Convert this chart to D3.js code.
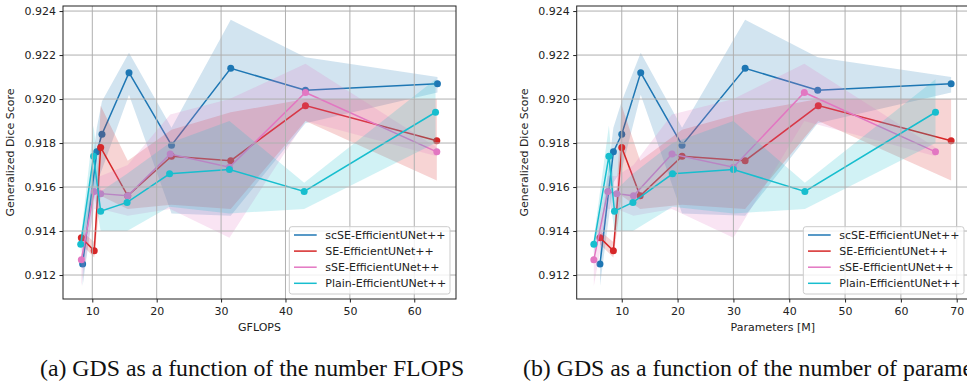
<!DOCTYPE html>
<html>
<head>
<meta charset="utf-8">
<script src="https://cdn.jsdelivr.net/npm/d3@7"></script>
<style>
  body { margin: 0; background: #fff; }
  svg { display: block; }
</style>
</head>
<body>
<svg id="chart" width="967" height="383"></svg>
<script>
// series names and colours (matplotlib tab10)
const seriesNames = ["scSE-EfficientUNet++", "SE-EfficientUNet++", "sSE-EfficientUNet++", "Plain-EfficientUNet++"];
const seriesColors = ["#1f77b4", "#d62728", "#e377c2", "#17becf"];

// x values: GFLOPS
const scseGflops = [8.5, 10.7, 11.5, 15.7, 22.3, 31.5, 43.1, 63.6];
const seGflops = [8.3, 10.3, 11.3, 15.5, 22.3, 31.5, 43.1, 63.5];
const sseGflops = [8.3, 10.3, 11.3, 15.5, 22.1, 31.3, 43.1, 63.5];
const plainGflops = [8.2, 10.2, 11.3, 15.4, 22.0, 31.3, 42.9, 63.3];

// x values: parameters [M]
const scseParams = [6.1, 8.5, 10.0, 13.4, 20.8, 32.1, 45.1, 69.0];
const seParams = [6.1, 8.5, 10.0, 13.3, 20.8, 32.1, 45.2, 69.0];
const sseParams = [5.0, 7.5, 9.1, 12.1, 19.0, 30.0, 42.7, 66.2];
const plainParams = [5.0, 7.7, 8.7, 12.0, 19.1, 30.0, 42.8, 66.2];

// generalized dice score (mean) and band limits
const scseGds = [0.9125, 0.9176, 0.9184, 0.9212, 0.9179, 0.9214, 0.9204, 0.9207];
const scseLow = [0.9115, 0.9162, 0.9168, 0.9202, 0.9148, 0.9147, 0.9189, 0.9203];
const scseHigh = [0.9137, 0.9187, 0.9199, 0.9221, 0.9187, 0.9236, 0.9219, 0.9210];

const seGds = [0.9137, 0.9131, 0.9178, 0.9156, 0.9174, 0.9172, 0.9197, 0.9181];
const seLow = [0.9134, 0.9128, 0.9156, 0.9150, 0.9152, 0.9150, 0.9190, 0.9163];
const seHigh = [0.9140, 0.9135, 0.9197, 0.9172, 0.9186, 0.9194, 0.9200, 0.9200];

const sseGds = [0.9127, 0.9158, 0.9157, 0.9156, 0.9175, 0.9169, 0.9203, 0.9176];
const sseLow = [0.9115, 0.9150, 0.9150, 0.9147, 0.9150, 0.9137, 0.9190, 0.9174];
const sseHigh = [0.9135, 0.9165, 0.9165, 0.9170, 0.9193, 0.9200, 0.9216, 0.9178];

const plainGds = [0.9134, 0.9174, 0.9149, 0.9153, 0.9166, 0.9168, 0.9158, 0.9194];
const plainLow = [0.9130, 0.9158, 0.9140, 0.9140, 0.9151, 0.9148, 0.9150, 0.9180];
const plainHigh = [0.9137, 0.9188, 0.9158, 0.9166, 0.9180, 0.9190, 0.9162, 0.9209];

// tick labels
const yTicks = [0.912, 0.914, 0.916, 0.918, 0.920, 0.922, 0.924];
const gflopsTicks = [10, 20, 30, 40, 50, 60];
const paramsTicks = [10, 20, 30, 40, 50, 60, 70];

const gdsValues = [scseGds, seGds, sseGds, plainGds];
const lowValues = [scseLow, seLow, sseLow, plainLow];
const highValues = [scseHigh, seHigh, sseHigh, plainHigh];

const svg = d3.select("#chart");
const font = "'DejaVu Sans', sans-serif";

// one panel = one subplot
function drawPanel(p, idx) {
	const x = d3.scaleLinear().domain(p.xDomain).range([p.left, p.right]);
	const y = d3.scaleLinear().domain([0.91091, 0.92423]).range([p.bottom, p.top]);

	const g = svg.append("g");
	const clipId = "clip" + idx;
	g.append("clipPath").attr("id", clipId)
		.append("rect")
		.attr("x", p.left).attr("y", p.top)
		.attr("width", p.right - p.left).attr("height", p.bottom - p.top);

	const plot = g.append("g").attr("clip-path", `url(#${clipId})`);

	// lines + markers, then band of each series (bands sit on top, alpha 0.2)
	seriesNames.forEach((name, i) => {
		const xs = p.xs[i];
		const pts = xs.map((v, j) => [x(v), y(gdsValues[i][j])]);
		plot.append("path")
			.attr("d", d3.line()(pts))
			.attr("fill", "none")
			.attr("stroke", seriesColors[i])
			.attr("stroke-width", 1.5);
		plot.selectAll(null).data(pts).enter().append("circle")
			.attr("cx", d => d[0]).attr("cy", d => d[1])
			.attr("r", 3.5)
			.attr("fill", seriesColors[i]);

		const area = d3.area()
			.x((d, j) => x(xs[j]))
			.y0((d, j) => y(lowValues[i][j]))
			.y1((d, j) => y(highValues[i][j]));
		plot.append("path")
			.attr("d", area(xs))
			.attr("fill", seriesColors[i])
			.attr("fill-opacity", 0.2);
	});

	// grid on top
	const grid = g.append("g").attr("clip-path", `url(#${clipId})`);
	grid.selectAll(null).data(p.xTicks).enter().append("line")
		.attr("x1", d => x(d)).attr("x2", d => x(d))
		.attr("y1", p.top).attr("y2", p.bottom)
		.attr("stroke", "#b0b0b0").attr("stroke-width", 1);
	grid.selectAll(null).data(yTicks).enter().append("line")
		.attr("x1", p.left).attr("x2", p.right)
		.attr("y1", d => y(d)).attr("y2", d => y(d))
		.attr("stroke", "#b0b0b0").attr("stroke-width", 1);

	// frame
	g.append("rect")
		.attr("x", p.left).attr("y", p.top)
		.attr("width", p.right - p.left).attr("height", p.bottom - p.top)
		.attr("fill", "none").attr("stroke", "#222").attr("stroke-width", 1);

	// axes
	const xAxis = g.append("g")
		.attr("transform", `translate(0,${p.bottom})`)
		.call(d3.axisBottom(x).tickValues(p.xTicks).tickSize(3.5).tickPadding(4.5).tickFormat(d3.format("d")));
	const yAxis = g.append("g")
		.attr("transform", `translate(${p.left},0)`)
		.call(d3.axisLeft(y).tickValues(yTicks).tickSize(3.5).tickPadding(3.5).tickFormat(d3.format(".3f")));
	[xAxis, yAxis].forEach(a => {
		a.select(".domain").remove();
		a.selectAll("line").attr("stroke", "#222");
		a.selectAll("text").attr("font-family", font).attr("font-size", 11).attr("fill", "#222");
	});

	// axis labels
	g.append("text")
		.attr("x", (p.left + p.right) / 2).attr("y", 330.5)
		.attr("text-anchor", "middle")
		.attr("font-family", font).attr("font-size", 11).attr("fill", "#222")
		.text(p.xLabel);
	g.append("text")
		.attr("transform", `translate(${p.yLabelX},${(p.top + p.bottom) / 2}) rotate(-90)`)
		.attr("text-anchor", "middle")
		.attr("font-family", font).attr("font-size", 11).attr("fill", "#222")
		.text("Generalized Dice Score");

	// legend
	const lg = g.append("g").attr("transform", `translate(${p.legendX},226.7)`);
	lg.append("rect")
		.attr("width", 160.7).attr("height", 67.3).attr("rx", 2.5)
		.attr("fill", "#fff").attr("fill-opacity", 0.8)
		.attr("stroke", "#cccccc").attr("stroke-width", 1);
	seriesNames.forEach((name, i) => {
		const ry = 8.3 + i * 16.1;
		lg.append("line")
			.attr("x1", 4.7).attr("x2", 27.4).attr("y1", ry).attr("y2", ry)
			.attr("stroke", seriesColors[i]).attr("stroke-width", 1.5);
		lg.append("text")
			.attr("x", 36).attr("y", ry + 4)
			.attr("font-family", font).attr("font-size", 11).attr("fill", "#222")
			.text(name);
	});

	// caption (the right one runs past the page edge, as in the original)
	svg.append("text")
		.attr("x", p.captionX).attr("y", 376)
		.attr("font-family", "'Liberation Serif', 'Times New Roman', serif")
		.attr("font-size", 23.8).attr("fill", "#111")
		.text(p.caption);
}

drawPanel({
	left: 63, right: 456, top: 6, bottom: 299,
	xDomain: [5.45, 66.48], xTicks: gflopsTicks,
	xs: [scseGflops, seGflops, sseGflops, plainGflops],
	xLabel: "GFLOPS", yLabelX: 14, legendX: 289.3,
	caption: "(a) GDS as a function of the number FLOPS", captionX: 40
}, 0);

drawPanel({
	left: 576.7, right: 969, top: 6, bottom: 299,
	xDomain: [1.93, 72.2], xTicks: paramsTicks,
	xs: [scseParams, seParams, sseParams, plainParams],
	xLabel: "Parameters [M]", yLabelX: 528, legendX: 803.3,
	caption: "(b) GDS as a function of the number of parameters", captionX: 523
}, 1);
</script>
</body>
</html>
